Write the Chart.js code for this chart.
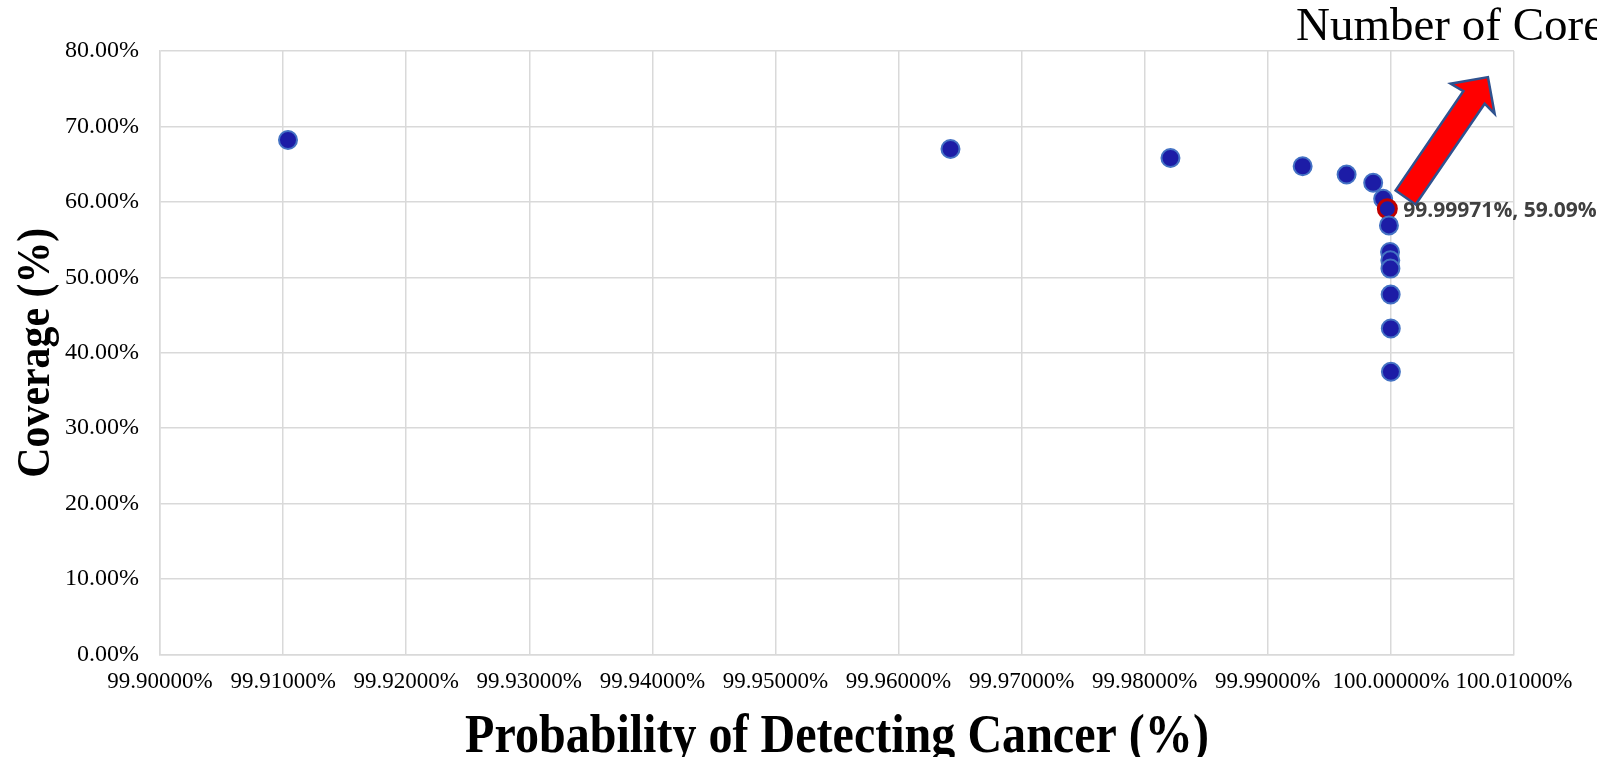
<!DOCTYPE html>
<html>
<head>
<meta charset="utf-8">
<script src="https://cdn.jsdelivr.net/npm/chart.js@4"></script>
<style>
  html, body { margin: 0; padding: 0; background: #fff; }
  canvas { display: block; }
</style>
</head>
<body>
<canvas id="chart" width="1597" height="757"></canvas>
<script>
// values (percent)
const probability = [99.91040, 99.96422, 99.98209, 99.99283, 99.99640, 99.99856, 99.99937,
  99.99971, 99.99984, 99.99993, 99.99995, 99.99996, 99.99998, 99.99999, 100.00000];
const coverage = [68.20, 67.01, 65.81, 64.72, 63.62, 62.53, 60.40,
  59.09, 56.88, 53.35, 52.25, 51.15, 47.71, 43.21, 37.47];
const xTicks = [99.90, 99.91, 99.92, 99.93, 99.94, 99.95, 99.96, 99.97, 99.98, 99.99, 100.00, 100.01];
const yTicks = [0, 10, 20, 30, 40, 50, 60, 70, 80];
const highlight = 7;

const points = probability.map((p, i) => ({ x: p, y: coverage[i] }));
const gridColor = '#d9d9d9';

// axis titles, the cut-off "Number of Cores" label, data label and the arrow
const overlay = {
  id: 'overlay',
  afterDraw(chart) {
    const ctx = chart.ctx;
    const area = chart.chartArea;
    const pt = chart.getDatasetMeta(0).data[highlight];

    // arrow, placed relative to the highlighted point
    const shape = [[8.3, -18.3], [28.3, -4.3], [97.3, -105], [107.3, -95],
      [100.6, -131.6], [63.3, -125], [76, -117.6]];
    ctx.save();
    ctx.beginPath();
    shape.forEach(([dx, dy], i) => {
      if (i === 0) ctx.moveTo(pt.x + dx, pt.y + dy);
      else ctx.lineTo(pt.x + dx, pt.y + dy);
    });
    ctx.closePath();
    ctx.fillStyle = '#ff0000';
    ctx.fill();
    ctx.lineWidth = 2.5;
    ctx.lineJoin = 'miter';
    ctx.strokeStyle = '#2f528f';
    ctx.stroke();
    ctx.restore();

    // data label
    ctx.save();
    ctx.font = 'bold 21px "Open Sans"';
    ctx.fillStyle = '#404040';
    ctx.textBaseline = 'middle';
    ctx.textAlign = 'left';
    ctx.fillText(probability[highlight].toFixed(5) + '%, ' + coverage[highlight].toFixed(2) + '%',
      pt.x + 16, pt.y + 2.5);
    ctx.restore();

    // x axis title
    ctx.save();
    ctx.font = 'bold 54px "Liberation Serif"';
    ctx.fillStyle = '#000';
    ctx.textAlign = 'center';
    ctx.textBaseline = 'alphabetic';
    ctx.translate((area.left + area.right) / 2, 752);
    ctx.scale(0.89, 1);
    ctx.fillText('Probability of Detecting Cancer (%)', 0, 0);
    ctx.restore();

    // y axis title
    ctx.save();
    ctx.font = 'bold 46px "Liberation Serif"';
    ctx.fillStyle = '#000';
    ctx.textAlign = 'center';
    ctx.textBaseline = 'alphabetic';
    ctx.translate(49, (area.top + area.bottom) / 2);
    ctx.rotate(-Math.PI / 2);
    ctx.scale(0.91, 1);
    ctx.fillText('Coverage (%)', 0, 0);
    ctx.restore();

    // second title, cut off by the right edge
    ctx.save();
    ctx.font = '47px "Liberation Serif"';
    ctx.fillStyle = '#000';
    ctx.textAlign = 'left';
    ctx.textBaseline = 'alphabetic';
    ctx.fillText('Number of Cores', 1296, 40);
    ctx.restore();
  }
};

new Chart(document.getElementById('chart'), {
  type: 'scatter',
  data: {
    datasets: [{
      data: points,
      pointRadius: 9,
      pointHoverRadius: 9,
      borderWidth: probability.map((p, i) => i === highlight ? 3 : 2),
      pointBorderColor: probability.map((p, i) => i === highlight ? '#c00000' : '#4472c4'),
      pointBackgroundColor: '#1c1ca6'
    }]
  },
  options: {
    responsive: false,
    animation: false,
    devicePixelRatio: 1,
    layout: { padding: { top: 51, right: 83, left: 44, bottom: 47 } },
    plugins: {
      legend: { display: false },
      tooltip: { enabled: false }
    },
    scales: {
      x: {
        type: 'linear',
        min: xTicks[0],
        max: xTicks[xTicks.length - 1],
        afterBuildTicks: scale => { scale.ticks = xTicks.map(v => ({ value: v })); },
        grid: { color: gridColor, lineWidth: 1.5, drawTicks: false },
        border: { color: gridColor, width: 1.5 },
        ticks: {
          autoSkip: false,
          maxRotation: 0,
          padding: 14,
          color: '#000',
          font: { family: 'Liberation Serif', size: 23 },
          callback: v => v.toFixed(5) + '%'
        }
      },
      y: {
        min: yTicks[0],
        max: yTicks[yTicks.length - 1],
        afterBuildTicks: scale => { scale.ticks = yTicks.map(v => ({ value: v })); },
        grid: { color: gridColor, lineWidth: 1.5, drawTicks: false },
        border: { color: gridColor, width: 1.5 },
        ticks: {
          padding: 21,
          color: '#000',
          font: { family: 'Liberation Serif', size: 24 },
          callback: v => v.toFixed(2) + '%'
        }
      }
    }
  },
  plugins: [overlay]
});
</script>
</body>
</html>
